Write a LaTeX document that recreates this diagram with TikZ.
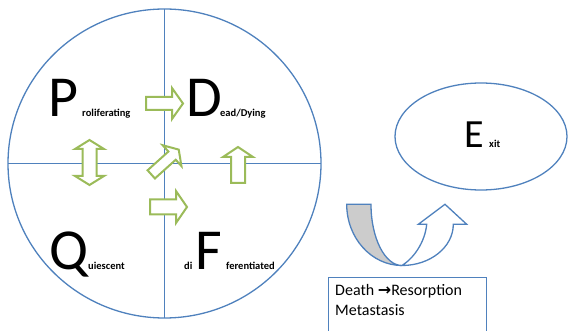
\documentclass[tikz,border=0pt]{standalone}
\usepackage{fontspec}
\setmainfont{Carlito}
\newfontfamily\symfont{DejaVu Sans}
\usetikzlibrary{shapes.geometric}
\definecolor{blu}{RGB}{79,129,189}
\definecolor{grn}{RGB}{155,187,89}
\definecolor{gry}{RGB}{204,204,204}
% single block arrow: {cx}{cy}{angle}{length}{shaft}{headwidth}{headlength}
\newcommand\sarrow[7]{%
  \begin{scope}[shift={(#1,#2)},rotate=#3]
  \filldraw[blk] ({-#4/2},{-#5/2}) -- ({#4/2-#7},{-#5/2}) -- ({#4/2-#7},{-#6/2}) -- ({#4/2},0)
    -- ({#4/2-#7},{#6/2}) -- ({#4/2-#7},{#5/2}) -- ({-#4/2},{#5/2}) -- cycle;
  \end{scope}}
% double block arrow
\newcommand\darrow[7]{%
  \begin{scope}[shift={(#1,#2)},rotate=#3]
  \filldraw[blk] ({-#4/2},0) -- ({-#4/2+#7},{-#6/2}) -- ({-#4/2+#7},{-#5/2}) -- ({#4/2-#7},{-#5/2})
    -- ({#4/2-#7},{-#6/2}) -- ({#4/2},0) -- ({#4/2-#7},{#6/2}) -- ({#4/2-#7},{#5/2})
    -- ({-#4/2+#7},{#5/2}) -- ({-#4/2+#7},{#6/2}) -- cycle;
  \end{scope}}
\begin{document}
\begin{tikzpicture}[x=1pt,y=-1pt,
  outl/.style={draw=blu,line width=1.3pt},
  big/.style={font=\fontsize{58}{58}\selectfont,inner sep=0pt,anchor=base west},
  sub/.style={font=\fontsize{10.5}{11}\selectfont\bfseries,inner sep=0pt,anchor=base west},
  blk/.style={draw=grn,line width=2pt,fill=white,miter limit=10},
]
\useasboundingbox (0,0) rectangle (568,331);
\clip (0,0) rectangle (568,331);
% quadrant circle
\node[outl,ellipse,minimum width=313pt,minimum height=309pt,inner sep=0pt,outer sep=0pt] (c) at (164.5,163.5) {};
\draw[outl] (c.north) -- (c.south);
\draw[outl] (c.west) -- (c.east);
% green block arrows
\sarrow{164.5}{103.5}{0}{37}{13}{31}{11}
\darrow{89.5}{162.5}{90}{45}{14}{29}{9}
\sarrow{238}{165}{90}{36}{14}{30}{10}
\sarrow{165}{162}{42}{37}{11}{28}{9}
\sarrow{168.5}{207}{0}{37}{15}{32}{11}
% letters
\node[big] (P) at (48,117) {P};
\node[sub] (Pt) at (82,117) {roliferating};
\node[big] (D) at (186,117) {D};
\node[sub] (Dt) at (220,117) {ead/Dying};
\node[big] (Q) at (49,270) {Q};
\node[sub] (Qt) at (88,270) {uiescent};
\node[sub] (Fa) at (184,270) {di};
\node[big] (F) at (195,270) {F};
\node[sub] (Ft) at (226,270) {ferentiated};
% exit
\node[outl,ellipse,minimum width=172pt,minimum height=107pt,inner sep=0pt] (ex) at (481,136.5) {};
\node[font=\fontsize{40}{40}\selectfont,inner sep=0pt,anchor=base west] (E) at (464,148) {E};
\node[sub] (Et) at (489,148) {xit};
% U-turn arrow
\filldraw[outl,fill=gry] (346.7,204.3) -- (371,204.3) .. controls (371,238.1) and (384.9,265.5) .. (402,265.5)
  .. controls (371.5,265.5) and (346.7,238.1) .. cycle;
\filldraw[outl,fill=white] (402,265.5) .. controls (414,258) and (425,242) .. (426.7,224.3) -- (418.3,224.3) -- (445,204.3)
  -- (466.7,224.3) -- (453.3,224.3) .. controls (453.3,247.1) and (430.3,265.5) .. (402,265.5) -- cycle;
% box
\node[draw=blu,line width=1.3pt,minimum width=158pt,minimum height=70pt,anchor=north west,inner sep=0pt] (bx) at (328,277) {};
\node[anchor=base west,font=\fontsize{16}{18}\selectfont,inner sep=0pt] (t1) at (335,296) {Death {\symfont\bfseries →}Resorption};
\node[anchor=base west,font=\fontsize{16}{18}\selectfont,inner sep=0pt] (t2) at (335,316) {Metastasis};
\end{tikzpicture}
\end{document}
